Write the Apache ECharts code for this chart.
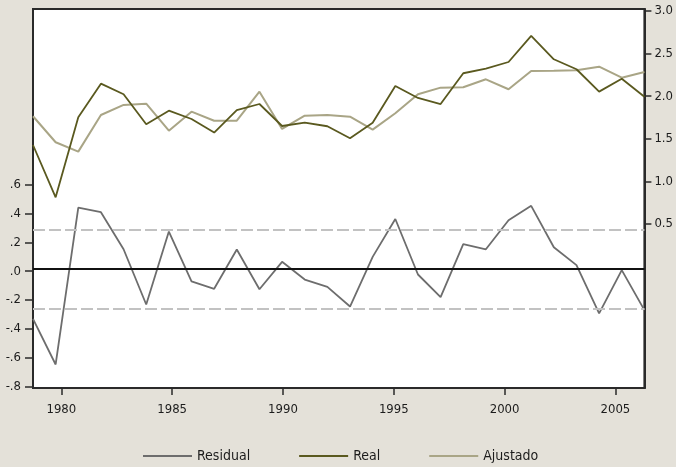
<!DOCTYPE html>
<html>
<head>
<meta charset="utf-8">
<script src="https://cdn.jsdelivr.net/npm/echarts@6/dist/echarts.min.js"></script>
<style>
  html, body { margin: 0; padding: 0; background: #e4e1d9; }
  #chart { width: 676px; height: 467px; }
</style>
</head>
<body>
<div id="chart"></div>
<script>
// Annual observations
const years = [1979, 1980, 1981, 1982, 1983, 1984, 1985, 1986, 1987, 1988,
               1989, 1990, 1991, 1992, 1993, 1994, 1995, 1996, 1997, 1998,
               1999, 2000, 2001, 2002, 2003, 2004, 2005, 2006];

// Residuals (left scale)
const residual = [-0.33, -0.647, 0.441, 0.409, 0.152, -0.231, 0.275, -0.071, -0.122, 0.150,
                  -0.125, 0.065, -0.058, -0.109, -0.245, 0.099, 0.362, -0.023, -0.180, 0.187,
                  0.152, 0.353, 0.453, 0.166, 0.042, -0.293, 0.007, -0.270];

// Actual values (right scale)
const real = [1.427, 0.813, 1.752, 2.147, 2.022, 1.670, 1.830, 1.732, 1.573, 1.835,
              1.908, 1.650, 1.689, 1.647, 1.506, 1.689, 2.120, 1.979, 1.908, 2.269,
              2.323, 2.401, 2.707, 2.433, 2.316, 2.053, 2.205, 1.994];

// Fitted values (right scale)
const ajustado = [1.764, 1.459, 1.349, 1.779, 1.897, 1.912, 1.595, 1.818, 1.712, 1.712,
                  2.053, 1.615, 1.771, 1.779, 1.759, 1.607, 1.799, 2.022, 2.100, 2.104,
                  2.198, 2.081, 2.296, 2.299, 2.304, 2.346, 2.217, 2.284];

// Residual reference lines: centre and +/- one standard error
const residCenter = 0.017;
const residUpper = 0.289;
const residLower = -0.258;

// Tick labels
const yearTicks = [1980, 1985, 1990, 1995, 2000, 2005];
const leftTicks = [-0.8, -0.6, -0.4, -0.2, 0.0, 0.2, 0.4, 0.6];
const rightTicks = [0.5, 1.0, 1.5, 2.0, 2.5, 3.0];

const FONT = "'DejaVu Sans Condensed', 'DejaVu Sans', sans-serif";
const TXT = '#1c1c1c';
const AXIS = '#2a2a2a';

const chart = echarts.init(document.getElementById('chart'), null, { renderer: 'canvas' });

chart.setOption({
  animation: false,
  backgroundColor: '#e4e1d9',
  textStyle: { fontFamily: FONT },
  grid: {
    left: 33, right: 26, top: 9, bottom: 79,
    show: true, backgroundColor: '#ffffff',
    borderColor: AXIS, borderWidth: 2
  },
  legend: {
    left: 143, top: 448, padding: 0,
    icon: 'rect',
    itemWidth: 49, itemHeight: 2, itemGap: 49,
    textStyle: { fontFamily: FONT, fontSize: 14, lineHeight: 16, color: TXT },
    data: ['Residual', 'Real', 'Ajustado']
  },
  xAxis: [
    {
      type: 'category', data: years.map(String), boundaryGap: false,
      show: false
    },
    {
      type: 'value', min: 1978.72, max: 2006.31, position: 'bottom',
      axisLine: { show: true, onZero: false, lineStyle: { color: AXIS, width: 2 } },
      axisTick: { show: true, length: 7, lineStyle: { color: AXIS, width: 1.5 }, customValues: yearTicks },
      axisLabel: {
        customValues: yearTicks, margin: 15,
        fontFamily: FONT, fontSize: 13, color: TXT,
        formatter: v => String(Math.round(v))
      },
      splitLine: { show: false }
    }
  ],
  yAxis: [
    {
      type: 'value', position: 'left', min: -0.81, max: 1.818,
      axisLine: { show: true, onZero: false, lineStyle: { color: AXIS, width: 2 } },
      axisTick: { show: true, length: 8, lineStyle: { color: AXIS, width: 1.5 }, customValues: leftTicks },
      axisLabel: {
        customValues: leftTicks, margin: 12,
        fontFamily: FONT, fontSize: 13, color: TXT,
        formatter: v => (Math.abs(v) < 1e-9 ? 0 : v).toFixed(1).replace('0.', '.')
      },
      splitLine: { show: false }
    },
    {
      type: 'value', position: 'right', min: -1.425, max: 3.023,
      axisLine: { show: true, onZero: false, lineStyle: { color: AXIS, width: 2 } },
      axisTick: { show: true, length: 7, lineStyle: { color: AXIS, width: 1.5 }, customValues: rightTicks },
      axisLabel: {
        customValues: rightTicks, margin: 10,
        fontFamily: FONT, fontSize: 13, color: TXT,
        formatter: v => v.toFixed(1)
      },
      splitLine: { show: false }
    }
  ],
  series: [
    {
      name: 'Residual', type: 'line', xAxisIndex: 0, yAxisIndex: 0,
      data: residual, symbol: 'none',
      lineStyle: { color: '#6d6d6d', width: 1.8 },
      itemStyle: { color: '#6d6d6d' },
      z: 3,
      markLine: {
        silent: true, symbol: 'none', label: { show: false },
        data: [
          { yAxis: residCenter, lineStyle: { color: '#111111', width: 1.8, type: 'solid' } },
          { yAxis: residUpper, lineStyle: { color: '#c2c2c2', width: 2, type: [12, 4] } },
          { yAxis: residLower, lineStyle: { color: '#c2c2c2', width: 2, type: [12, 4] } }
        ]
      }
    },
    {
      name: 'Real', type: 'line', xAxisIndex: 0, yAxisIndex: 1,
      data: real, symbol: 'none',
      lineStyle: { color: '#5a591f', width: 1.8 },
      itemStyle: { color: '#5a591f' },
      z: 4
    },
    {
      name: 'Ajustado', type: 'line', xAxisIndex: 0, yAxisIndex: 1,
      data: ajustado, symbol: 'none',
      lineStyle: { color: '#a9a586', width: 2 },
      itemStyle: { color: '#a9a586' },
      z: 3
    }
  ]
});
</script>
</body>
</html>
